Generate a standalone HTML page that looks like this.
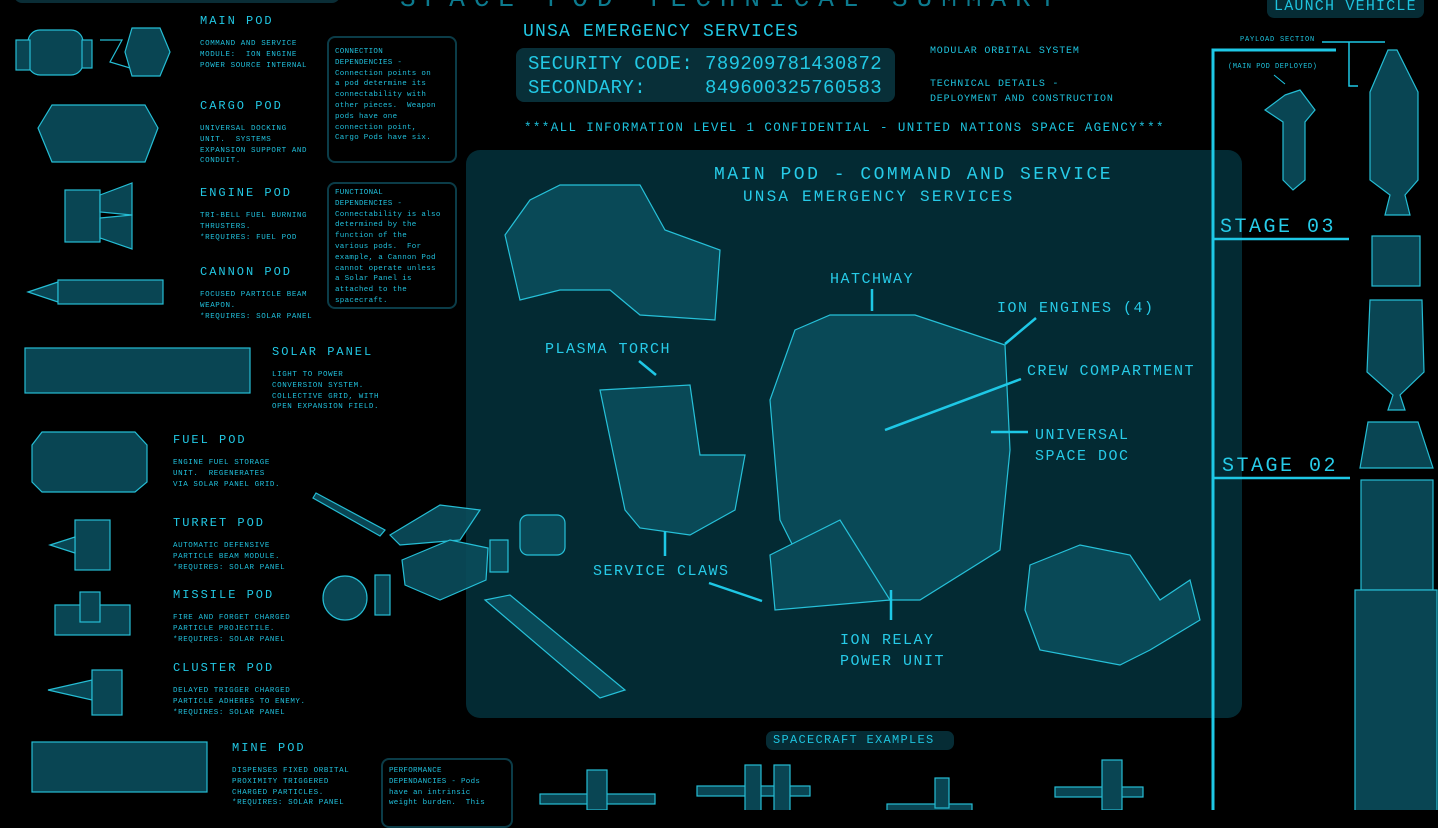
<!DOCTYPE html>
<html><head><meta charset="utf-8">
<style>
*{margin:0;padding:0;box-sizing:border-box}
body{width:1438px;height:810px;background:#000;overflow:hidden;position:relative;font-family:"Liberation Mono",monospace;color:#1ec3de}
.a{position:absolute;white-space:pre;line-height:1}
.h{font-size:12px;letter-spacing:2px;color:#22c8e4}
.d{font-size:7.5px;line-height:10.8px;letter-spacing:.6px;color:#20c0dc}
.box{position:absolute;border:2px solid #0b3c48;border-radius:8px}
.bx{font-size:7.5px;line-height:10.8px;letter-spacing:.3px;color:#20c0dc}
.L{font-size:15px;letter-spacing:1.5px;color:#27cbe8}
svg{position:absolute;left:0;top:0}
</style></head><body>
<div style="position:absolute;left:14px;top:-20px;width:326px;height:23px;border-radius:8px;background:#0a2d36"></div>
<div class="a" style="left:400px;top:-14px;font-size:26px;letter-spacing:9px;color:#0c7a8e">SPACE POD TECHNICAL SUMMARY</div>

<div style="position:absolute;left:466px;top:150px;width:776px;height:568px;border-radius:14px;background:#032a33"></div>

<svg width="1438" height="810">
<g fill="#0a4d5c" stroke="#2ad2ec" stroke-width="1.2" opacity="0.9">
 <rect x="28" y="30" width="55" height="45" rx="12"/><rect x="16" y="40" width="14" height="30"/><rect x="82" y="40" width="10" height="28"/>
 <polygon points="132,28 160,28 170,52 160,76 132,76 125,52"/><polyline points="100,40 122,40 110,62 130,68" fill="none"/>
 <polygon points="38,128 52,105 145,105 158,128 145,162 52,162"/>
 <rect x="65" y="190" width="35" height="52"/><polygon points="100,195 132,183 132,215 100,212"/><polygon points="100,218 132,215 132,249 100,238"/>
 <polygon points="28,292 58,282 58,302"/><rect x="58" y="280" width="105" height="24"/>
 <rect x="25" y="348" width="225" height="45"/>
 <polygon points="32,445 42,432 135,432 147,445 147,482 135,492 42,492 32,482"/>
 <rect x="75" y="520" width="35" height="50"/><polygon points="50,545 75,537 75,553"/>
 <rect x="55" y="605" width="75" height="30"/><rect x="80" y="592" width="20" height="30"/>
 <polygon points="48,690 92,680 92,700"/><rect x="92" y="670" width="30" height="45"/>
 <rect x="32" y="742" width="175" height="50"/>
 <polygon points="316,493 385,530 380,536 313,498"/>
 <polygon points="390,535 440,505 480,510 460,540 400,545"/>
 <polygon points="402,560 450,540 488,548 486,580 440,600 405,585"/>
 <rect x="375" y="575" width="15" height="40"/><rect x="490" y="540" width="18" height="32"/><rect x="520" y="515" width="45" height="40" rx="8"/>
 <circle cx="345" cy="598" r="22"/>
 <polygon points="485,600 510,595 625,690 600,698"/>
 <polygon points="795,330 830,315 915,315 1005,345 1010,450 1000,550 920,600 820,600 780,520 770,400"/>
 <polygon points="600,390 690,385 700,455 745,455 735,510 690,535 640,528 625,510"/>
 <polygon points="770,555 840,520 890,600 775,610"/>
 <polygon points="505,235 530,200 560,185 640,185 665,230 720,250 715,320 640,315 610,290 560,290 520,300"/>
 <polygon points="1030,565 1080,545 1130,555 1160,600 1190,580 1200,620 1150,650 1120,665 1040,650 1025,610"/>
 <polygon points="1388,50 1397,50 1418,92 1418,180 1405,195 1410,215 1385,215 1390,195 1370,180 1370,92"/>
 <polygon points="1285,95 1300,90 1315,110 1305,122 1305,180 1293,190 1283,180 1283,122 1265,110"/>
 <rect x="1372" y="236" width="48" height="50"/>
 <polygon points="1370,300 1422,300 1424,372 1400,395 1405,410 1388,410 1393,395 1367,372"/>
 <polygon points="1368,422 1418,422 1433,468 1360,468"/>
 <rect x="1361" y="480" width="72" height="110"/>
 <rect x="1355" y="590" width="82" height="230"/>
 <rect x="540" y="794" width="115" height="10"/><rect x="587" y="770" width="20" height="40"/>
 <rect x="697" y="786" width="113" height="10"/><rect x="745" y="765" width="16" height="50"/><rect x="774" y="765" width="16" height="50"/>
 <rect x="887" y="804" width="85" height="8"/><rect x="935" y="778" width="14" height="30"/>
 <rect x="1055" y="787" width="88" height="10"/><rect x="1102" y="760" width="20" height="50"/>
</g>
<g stroke="#1ec8e6" stroke-width="2.5" fill="none">
 <line x1="872" y1="289" x2="872" y2="311"/>
 <line x1="1036" y1="318" x2="1005" y2="344"/>
 <line x1="1021" y1="379" x2="885" y2="430"/>
 <line x1="991" y1="432" x2="1028" y2="432"/>
 <line x1="639" y1="361" x2="656" y2="375"/>
 <line x1="665" y1="531" x2="665" y2="556"/>
 <line x1="709" y1="583" x2="762" y2="601"/>
 <line x1="891" y1="590" x2="891" y2="620"/>
</g>
<g stroke="#1ec8e6" fill="none">
 <polyline points="1213,810 1213,50 1336,50" stroke-width="3"/>
 <polyline points="1322,42 1385,42" stroke-width="1.5"/>
 <polyline points="1349,42 1349,86 1358,86" stroke-width="1.5"/>
 <line x1="1213" y1="239" x2="1349" y2="239" stroke-width="2.5"/>
 <line x1="1213" y1="478" x2="1350" y2="478" stroke-width="2.5"/>
 <line x1="1274" y1="75" x2="1285" y2="84" stroke-width="1"/>
</g>
</svg>

<div class="a h" style="left:200px;top:15px">MAIN POD</div>
<div class="a d" style="left:200px;top:39px">COMMAND AND SERVICE
MODULE:  ION ENGINE
POWER SOURCE INTERNAL</div>
<div class="a h" style="left:200px;top:100px">CARGO POD</div>
<div class="a d" style="left:200px;top:124px">UNIVERSAL DOCKING
UNIT.  SYSTEMS
EXPANSION SUPPORT AND
CONDUIT.</div>
<div class="a h" style="left:200px;top:187px">ENGINE POD</div>
<div class="a d" style="left:200px;top:211px">TRI-BELL FUEL BURNING
THRUSTERS.
*REQUIRES: FUEL POD</div>
<div class="a h" style="left:200px;top:266px">CANNON POD</div>
<div class="a d" style="left:200px;top:290px">FOCUSED PARTICLE BEAM
WEAPON.
*REQUIRES: SOLAR PANEL</div>
<div class="a h" style="left:272px;top:346px">SOLAR PANEL</div>
<div class="a d" style="left:272px;top:370px">LIGHT TO POWER
CONVERSION SYSTEM.
COLLECTIVE GRID, WITH
OPEN EXPANSION FIELD.</div>
<div class="a h" style="left:173px;top:434px">FUEL POD</div>
<div class="a d" style="left:173px;top:458px">ENGINE FUEL STORAGE
UNIT.  REGENERATES
VIA SOLAR PANEL GRID.</div>
<div class="a h" style="left:173px;top:517px">TURRET POD</div>
<div class="a d" style="left:173px;top:541px">AUTOMATIC DEFENSIVE
PARTICLE BEAM MODULE.
*REQUIRES: SOLAR PANEL</div>
<div class="a h" style="left:173px;top:589px">MISSILE POD</div>
<div class="a d" style="left:173px;top:613px">FIRE AND FORGET CHARGED
PARTICLE PROJECTILE.
*REQUIRES: SOLAR PANEL</div>
<div class="a h" style="left:173px;top:662px">CLUSTER POD</div>
<div class="a d" style="left:173px;top:686px">DELAYED TRIGGER CHARGED
PARTICLE ADHERES TO ENEMY.
*REQUIRES: SOLAR PANEL</div>
<div class="a h" style="left:232px;top:742px">MINE POD</div>
<div class="a d" style="left:232px;top:766px">DISPENSES FIXED ORBITAL
PROXIMITY TRIGGERED
CHARGED PARTICLES.
*REQUIRES: SOLAR PANEL</div>

<div class="box" style="left:327px;top:36px;width:130px;height:127px"></div>
<div class="a bx" style="left:335px;top:47px">CONNECTION
DEPENDENCIES -
Connection points on
a pod determine its
connectability with
other pieces.  Weapon
pods have one
connection point,
Cargo Pods have six.</div>
<div class="box" style="left:327px;top:182px;width:130px;height:127px"></div>
<div class="a bx" style="left:335px;top:188px">FUNCTIONAL
DEPENDENCIES -
Connectability is also
determined by the
function of the
various pods.  For
example, a Cannon Pod
cannot operate unless
a Solar Panel is
attached to the
spacecraft.</div>
<div class="box" style="left:381px;top:758px;width:132px;height:70px"></div>
<div class="a bx" style="left:389px;top:766px">PERFORMANCE
DEPENDANCIES - Pods
have an intrinsic
weight burden.  This</div>

<div class="a" style="left:523px;top:23px;font-size:18px;letter-spacing:1.2px;color:#22c6e2">UNSA EMERGENCY SERVICES</div>
<div style="position:absolute;left:516px;top:48px;width:379px;height:54px;border-radius:8px;background:#082f38"></div>
<div class="a" style="left:528px;top:55px;font-size:19px;letter-spacing:0.4px;color:#22c8e4">SECURITY CODE: 789209781430872</div>
<div class="a" style="left:528px;top:79px;font-size:19px;letter-spacing:0.4px;color:#22c8e4">SECONDARY:     849600325760583</div>
<div class="a" style="left:930px;top:47px;font-size:10px;letter-spacing:.8px">MODULAR ORBITAL SYSTEM</div>
<div class="a" style="left:930px;top:77px;font-size:10px;letter-spacing:.8px;line-height:15px">TECHNICAL DETAILS -
DEPLOYMENT AND CONSTRUCTION</div>
<div class="a" style="left:524px;top:122px;font-size:12.5px;letter-spacing:1.4px">***ALL INFORMATION LEVEL 1 CONFIDENTIAL - UNITED NATIONS SPACE AGENCY***</div>

<div class="a" style="left:714px;top:166px;font-size:18px;letter-spacing:2.5px;color:#27cbe8">MAIN POD - COMMAND AND SERVICE</div>
<div class="a" style="left:743px;top:189px;font-size:16px;letter-spacing:2.2px;color:#27cbe8">UNSA EMERGENCY SERVICES</div>
<div class="a L" style="left:830px;top:272px">HATCHWAY</div>
<div class="a L" style="left:997px;top:301px">ION ENGINES (4)</div>
<div class="a L" style="left:545px;top:342px">PLASMA TORCH</div>
<div class="a L" style="left:1027px;top:364px">CREW COMPARTMENT</div>
<div class="a L" style="left:1035px;top:425px;line-height:21px">UNIVERSAL
SPACE DOC</div>
<div class="a L" style="left:593px;top:564px">SERVICE CLAWS</div>
<div class="a L" style="left:840px;top:630px;line-height:21px">ION RELAY
POWER UNIT</div>

<div style="position:absolute;left:766px;top:731px;width:188px;height:19px;border-radius:7px;background:#062c35"></div>
<div class="a" style="left:773px;top:734px;font-size:12px;letter-spacing:1.3px">SPACECRAFT EXAMPLES</div>

<div style="position:absolute;left:1267px;top:-6px;width:157px;height:24px;border-radius:7px;background:#062c35"></div>
<div class="a" style="left:1274px;top:-1px;font-size:15px;letter-spacing:1.2px">LAUNCH VEHICLE</div>
<div class="a" style="left:1240px;top:37px;font-size:7px;letter-spacing:.8px">PAYLOAD SECTION</div>
<div class="a" style="left:1228px;top:64px;font-size:7px;letter-spacing:.5px">(MAIN POD DEPLOYED)</div>
<div class="a" style="left:1220px;top:218px;font-size:20px;letter-spacing:2.5px;color:#27cbe8">STAGE 03</div>
<div class="a" style="left:1222px;top:457px;font-size:20px;letter-spacing:2.5px;color:#27cbe8">STAGE 02</div>
</body></html>
